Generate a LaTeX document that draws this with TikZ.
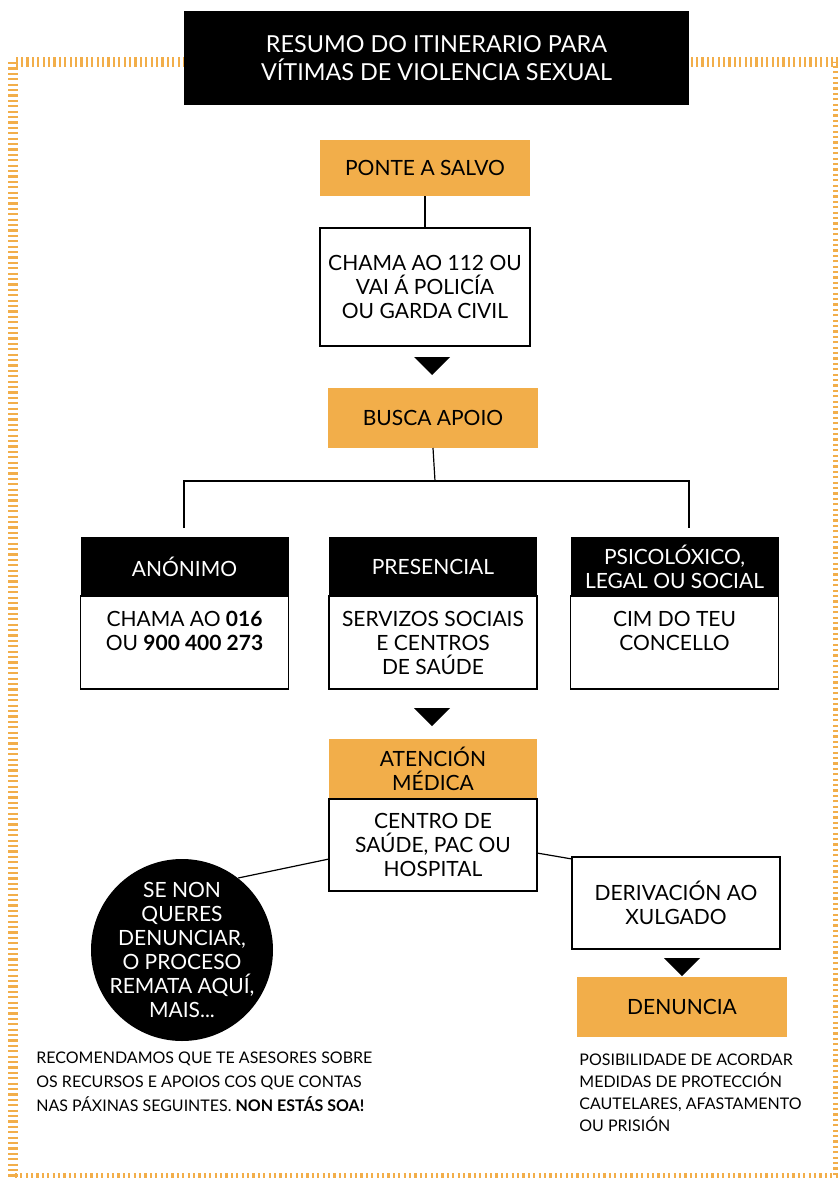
\documentclass[tikz,border=0pt]{standalone}
\usepackage{fontspec}
\setmainfont{Lato}
\usetikzlibrary{positioning}
\definecolor{stepgold}{RGB}{242,174,74}

\begin{document}
\begin{tikzpicture}[x=0.5pt,y=-0.5pt,
textfont/.style={font=\fontsize{10.5}{12}\selectfont},
stepfill/.style={fill=stepgold,minimum width=105pt,align=center,outer sep=0pt,textfont},
headbox/.style={fill=black,text=white,minimum width=104pt,minimum height=29.5pt,align=center,outer sep=0pt,textfont},
bodybox/.style={draw,line width=0.75pt,minimum width=104pt,align=center,outer sep=0pt,textfont},
notetext/.style={align=left,inner sep=0pt,font=\fontsize{8}{12}\selectfont},
stripe/.style={draw=stepgold,line width=5pt,dash pattern=on 1.1pt off 1.6pt},
pics/downtri/.style={code={\fill (-18,-9) -- (18,-9) -- (0,9) -- cycle;}}]
\useasboundingbox (0,0) rectangle (838,1178);
\draw[stripe] (13,62) rectangle (838,1178);

\node (title) [fill=black,text=white,minimum width=252.5pt,minimum height=47pt,align=center,
    font=\fontsize{11.7}{14}\selectfont] at (436.5,58)
    {RESUMO DO ITINERARIO PARA\\VÍTIMAS DE VIOLENCIA SEXUAL};

\node (salvo) [stepfill,minimum height=28pt] at (425,168) {PONTE A SALVO};
\node (call) [bodybox,minimum width=105pt,minimum height=59pt,below=16pt of salvo]
    {CHAMA AO 112 OU\\VAI Á POLICÍA\\OU GARDA CIVIL};
\draw[line width=0.6pt] (salvo) -- (call);
\pic at (432,366) {downtri};

\node (apoio) [stepfill,minimum height=30pt] at (433,418) {BUSCA APOIO};
\coordinate (fork) at (435,481);
\coordinate (forkL) at (184,528);
\coordinate (forkR) at (689,528);
\draw[line width=0.6pt] (apoio.south) -- (fork);
\draw[line width=0.6pt] (forkL) |- (fork) -| (forkR);

\node (anonhead) [headbox] at (184.5,566.5) {ANÓNIMO};
\node (anonbody) [bodybox,minimum height=46.5pt,below=0pt of anonhead]
    {CHAMA AO \textbf{016}\\OU \textbf{900 400 273}\\\mbox{}};
\node (preshead) [headbox] at (433,566.5) {PRESENCIAL};
\node (presbody) [bodybox,minimum height=46.5pt,below=0pt of preshead]
    {SERVIZOS SOCIAIS\\E CENTROS\\DE SAÚDE};
\node (psihead) [headbox] at (674.5,566.5) {PSICOLÓXICO,\\LEGAL OU SOCIAL};
\node (psibody) [bodybox,minimum height=46.5pt,below=0pt of psihead]
    {CIM DO TEU\\CONCELLO\\\mbox{}};
\pic at (432,717) {downtri};

\node (medhead) [stepfill,minimum width=104pt,minimum height=30pt] at (433,769) {ATENCIÓN\\MÉDICA};
\node (medbody) [bodybox,minimum height=46pt,below=0pt of medhead]
    {CENTRO DE\\SAÚDE, PAC OU\\HOSPITAL};

% se non hai denuncia
\node (nocomplaint) [circle,fill=black,text=white,minimum size=91pt,inner sep=-4pt,align=center,textfont]
    at (182,950) {SE NON\\QUERES\\DENUNCIAR,\\O PROCESO\\REMATA AQUÍ,\\MAIS...};
\node (court) [bodybox,minimum height=46pt] at (676,903) {DERIVACIÓN AO\\XULGADO};
\draw[line width=0.6pt] (nocomplaint.52) -- ([yshift=-7pt]medbody.west);
\draw[line width=0.6pt] ([yshift=-4pt]medbody.east) -- ([yshift=-1pt]court.north west);
\pic at (682,967) {downtri};
\node (denuncia) [stepfill,minimum height=30pt] at (682,1007) {DENUNCIA};

\node (advice) [notetext,anchor=north west] at (36,1051)
    {RECOMENDAMOS QUE TE ASESORES SOBRE\\OS RECURSOS E APOIOS COS QUE CONTAS\\NAS PÁXINAS SEGUINTES. \textbf{NON ESTÁS SOA!}};
\node (measures) [notetext,font=\fontsize{8}{11}\selectfont,anchor=north west] at (579,1053)
    {POSIBILIDADE DE ACORDAR\\MEDIDAS DE PROTECCIÓN\\CAUTELARES, AFASTAMENTO\\OU PRISIÓN};
\end{tikzpicture}
\end{document}
